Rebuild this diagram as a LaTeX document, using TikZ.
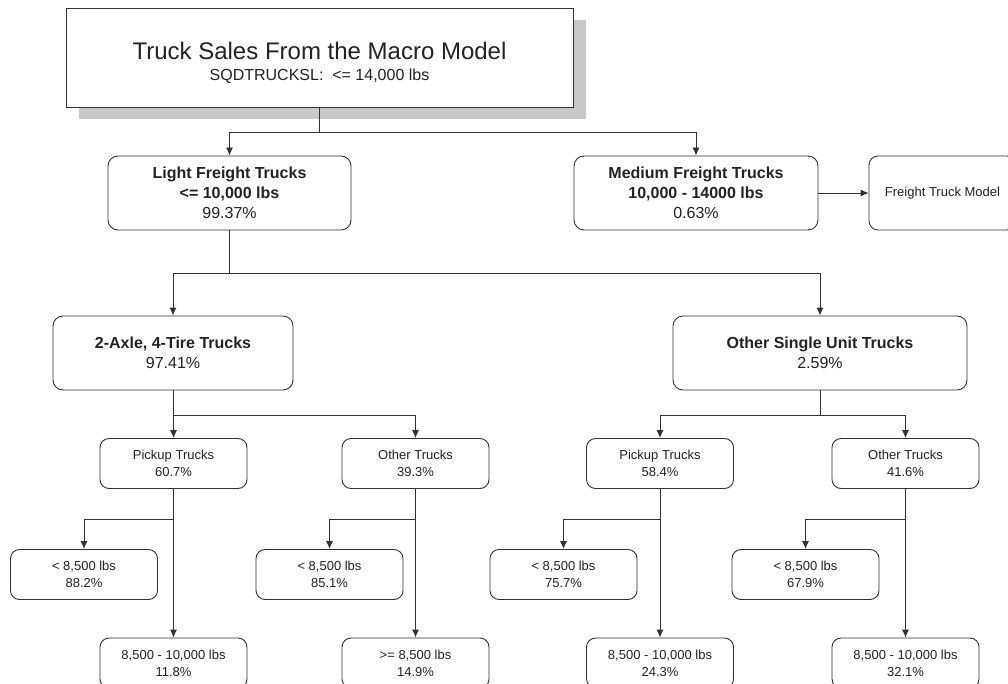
\documentclass[tikz,border=0pt]{standalone}
\usepackage{fontspec}
\setmainfont{Liberation Sans}
\usetikzlibrary{arrows.meta}
\usetikzlibrary{shadows}
\definecolor{linegrey}{RGB}{50,50,50}
\definecolor{textgrey}{RGB}{35,35,35}
\definecolor{shadowgrey}{RGB}{200,200,200}

\tikzset{
    titlebox/.style={draw=linegrey, line width=0.9pt, fill=white, text=textgrey,
        minimum width=507pt, minimum height=99pt, inner sep=0pt, align=center,
        font=\fontsize{16}{21}\selectfont,
        drop shadow={shadow xshift=13pt, shadow yshift=-12pt, fill=shadowgrey, opacity=1}},
    bigbox/.style={draw=linegrey, line width=0.9pt, rounded corners=10pt, fill=white,
        text=textgrey, minimum height=74pt, inner sep=0pt, align=center,
        font=\fontsize{16}{20}\selectfont},
    smallbox/.style={draw=linegrey, line width=0.9pt, rounded corners=9pt, fill=white,
        text=textgrey, minimum width=147pt, minimum height=50pt, inner sep=0pt, align=center,
        font=\fontsize{13}{17}\selectfont},
    link/.style={draw=linegrey, line width=0.9pt, -{Latex[length=8pt,width=7pt]}}
}

\begin{document}
\begin{tikzpicture}[x=1pt, y=-1pt]
    \useasboundingbox (0,0) rectangle (1008,684);
    \clip (0,0) rectangle (1008,684);

    % top of the tree
    \node[titlebox] (title) at (319.5,57.5) {\rule{0pt}{28pt}{\fontsize{24}{28}\selectfont Truck Sales From the Macro Model}\\SQDTRUCKSL:\ \ <= 14,000 lbs};

    \node[bigbox, minimum width=243pt] (light) at (229.5,193) {\textbf{Light Freight Trucks}\\\textbf{<= 10,000 lbs}\\99.37\%};
    \node[bigbox, minimum width=244pt] (medium) at (696,193) {\textbf{Medium Freight Trucks}\\\textbf{10,000 - 14000 lbs}\\0.63\%};
    \node[smallbox, minimum height=74pt] (freight) at (942.5,193) {Freight Truck Model};

    \node[bigbox, minimum width=240pt] (axle) at (173,353) {\textbf{2-Axle, 4-Tire Trucks}\\97.41\%};
    \node[bigbox, minimum width=294pt] (single) at (820,353) {\textbf{Other Single Unit Trucks}\\2.59\%};

    % second level
    \node[smallbox] (pick1) at (173.5,463.5) {Pickup Trucks\\60.7\%};
    \node[smallbox] (oth1) at (415.5,463.5) {Other Trucks\\39.3\%};
    \node[smallbox] (pick2) at (660,463.5) {Pickup Trucks\\58.4\%};
    \node[smallbox] (oth2) at (905.5,463.5) {Other Trucks\\41.6\%};

    % weight classes
    \node[smallbox] (lo1) at (84,574.5) {< 8,500 lbs\\88.2\%};
    \node[smallbox] (lo2) at (329.5,574.5) {< 8,500 lbs\\85.1\%};
    \node[smallbox] (lo3) at (563.5,574.5) {< 8,500 lbs\\75.7\%};
    \node[smallbox] (lo4) at (805.5,574.5) {< 8,500 lbs\\67.9\%};

    \node[smallbox] (hi1) at (173.5,663) {8,500 - 10,000 lbs\\11.8\%};
    \node[smallbox] (hi2) at (415.5,663) {>= 8,500 lbs\\14.9\%};
    \node[smallbox] (hi3) at (660,663) {8,500 - 10,000 lbs\\24.3\%};
    \node[smallbox] (hi4) at (905.5,663) {8,500 - 10,000 lbs\\32.1\%};

    % connectors
    \draw[link] (title.south) -- ++(0,25) -| (light);
    \draw[link] (title.south) -- ++(0,25) -| (medium);
    \draw[link] (medium) -- (freight);

    \draw[link] (light.south) -- ++(0,43) -| (axle);
    \draw[link] (light.south) -- ++(0,43) -| (single);

    \draw[link] (axle.south) -- ++(0,25) -| (pick1);
    \draw[link] (axle.south) -- ++(0,25) -| (oth1);
    \draw[link] (single.south) -- ++(0,25) -| (pick2);
    \draw[link] (single.south) -- ++(0,25) -| (oth2);

    \foreach \up/\lo/\hi in {pick1/lo1/hi1, oth1/lo2/hi2, pick2/lo3/hi3, oth2/lo4/hi4} {
        \draw[link] (\up) -- (\hi);
        \draw[link] (\up.south) -- ++(0,30) -| (\lo);
    }
\end{tikzpicture}
\end{document}
